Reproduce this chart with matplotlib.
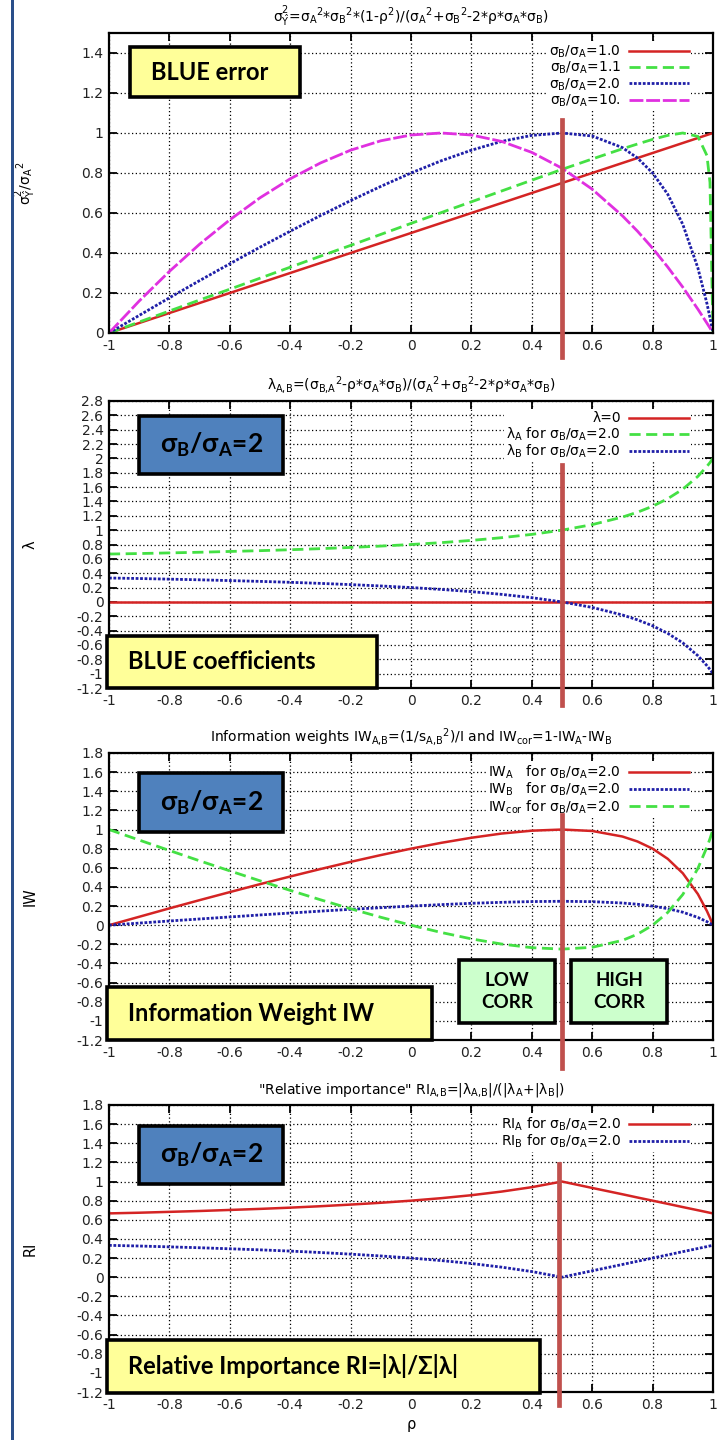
import matplotlib
matplotlib.use("Agg")
import matplotlib.pyplot as plt
from matplotlib.patches import Rectangle
from matplotlib.ticker import FormatStrFormatter

# correlation values used for every curve
rho = [-1.0, -0.9, -0.8, -0.7, -0.6, -0.5, -0.4, -0.3, -0.2, -0.1, 0.0,
       0.1, 0.2, 0.3, 0.4, 0.5, 0.6, 0.7, 0.75, 0.8, 0.85, 0.9, 0.95, 0.98, 0.99, 1.0]

# panel 1: BLUE error for several sigma ratios
err_r1 = [0, 0.05, 0.1, 0.15, 0.2, 0.25, 0.3, 0.35, 0.4, 0.45, 0.5,
          0.55, 0.6, 0.65, 0.7, 0.75, 0.8, 0.85, 0.875, 0.9, 0.925, 0.95, 0.975, 0.99, 0.995, 1.0]
err_r11 = [0, 0.055, 0.110, 0.165, 0.219, 0.274, 0.329, 0.384, 0.438, 0.493, 0.548,
           0.602, 0.656, 0.710, 0.764, 0.818, 0.870, 0.921, 0.945, 0.968, 0.988, 1.000, 0.983, 0.887, 0.753, 0]
err_r2 = [0, 0.088, 0.176, 0.262, 0.346, 0.429, 0.509, 0.587, 0.662, 0.733, 0.800,
          0.861, 0.914, 0.958, 0.988, 1.000, 0.985, 0.927, 0.875, 0.800, 0.694, 0.543, 0.325, 0.147, 0.077, 0]
err_r10 = [0, 0.160, 0.308, 0.444, 0.566, 0.676, 0.771, 0.850, 0.914, 0.961, 0.990,
           1.000, 0.990, 0.958, 0.903, 0.824, 0.719, 0.586, 0.509, 0.424, 0.330, 0.229, 0.119, 0.049, 0.025, 0]

# panel 2: BLUE coefficients
lam_zero = [0.0] * 26
lam_a = [0.667, 0.674, 0.683, 0.692, 0.703, 0.714, 0.727, 0.742, 0.759, 0.778, 0.800,
         0.826, 0.857, 0.895, 0.941, 1.000, 1.077, 1.182, 1.250, 1.333, 1.438, 1.571, 1.750, 1.889, 1.942, 2.000]
lam_b = [0.333, 0.326, 0.317, 0.308, 0.297, 0.286, 0.273, 0.258, 0.241, 0.222, 0.200,
         0.174, 0.143, 0.105, 0.059, 0.000, -0.077, -0.182, -0.250, -0.333, -0.438, -0.571, -0.750, -0.889, -0.942, -1.000]

# panel 3: information weights
iw_a = [0, 0.088, 0.176, 0.262, 0.346, 0.429, 0.509, 0.587, 0.662, 0.733, 0.800,
        0.861, 0.914, 0.958, 0.988, 1.000, 0.985, 0.927, 0.875, 0.800, 0.694, 0.543, 0.325, 0.147, 0.077, 0]
iw_b = [0, 0.022, 0.044, 0.065, 0.086, 0.107, 0.127, 0.147, 0.166, 0.183, 0.200,
        0.215, 0.229, 0.239, 0.247, 0.250, 0.246, 0.232, 0.219, 0.200, 0.173, 0.136, 0.081, 0.037, 0.019, 0]
iw_cor = [1.0, 0.890, 0.781, 0.673, 0.568, 0.464, 0.364, 0.266, 0.172, 0.083, 0.0,
          -0.076, -0.143, -0.197, -0.235, -0.250, -0.231, -0.159, -0.094, 0.0, 0.133, 0.321, 0.594, 0.817, 0.904, 1.0]

# panel 4: relative importance
ri_a = [0.667, 0.674, 0.683, 0.692, 0.703, 0.714, 0.727, 0.742, 0.759, 0.778, 0.800,
        0.826, 0.857, 0.895, 0.941, 1.000, 0.933, 0.867, 0.833, 0.800, 0.767, 0.733, 0.700, 0.680, 0.673, 0.667]
ri_b = [0.333, 0.326, 0.317, 0.308, 0.297, 0.286, 0.273, 0.258, 0.241, 0.222, 0.200,
        0.174, 0.143, 0.105, 0.059, 0.000, 0.067, 0.133, 0.167, 0.200, 0.233, 0.267, 0.300, 0.320, 0.327, 0.333]

plt.rcParams["font.family"] = ["DejaVu Sans"]
plt.rcParams["axes.unicode_minus"] = False
plt.rcParams["mathtext.fontset"] = "custom"
plt.rcParams["mathtext.rm"] = "DejaVu Sans"
plt.rcParams["mathtext.it"] = "DejaVu Sans:italic"
plt.rcParams["mathtext.bf"] = "Lato:bold"
plt.rcParams["mathtext.default"] = "rm"

BOXFONT = ["Lato", "DejaVu Sans"]
RED, GREEN, BLUE, MAG = "#d42424", "#44e044", "#1f1fa8", "#e030e0"
MARK = "#c0504d"

W, H = 723, 1440
fig = plt.figure(figsize=(W / 100, H / 100), dpi=100)

# blue bar down the left side
fig.add_artist(Rectangle((11 / W, 0), 3 / W, 1, transform=fig.transFigure,
                         facecolor="#2a4f8a", edgecolor="none"))


def make_axes(top, height, ylo, yhi):
    ax = fig.add_axes([109 / W, 1 - (top + height) / H, 604 / W, height / H])
    ax.set_xticks([i / 10 for i in range(-10, 11, 2)])
    n = int((yhi - ylo) / 0.2 + 1e-6)
    ax.set_yticks([round(ylo + i * 0.2, 1) for i in range(n + 1)])
    ax.set_xlim(-1, 1)
    ax.set_ylim(ylo, yhi)
    ax.xaxis.set_major_formatter(FormatStrFormatter("%g"))
    ax.yaxis.set_major_formatter(FormatStrFormatter("%g"))
    ax.tick_params(direction="in", top=True, right=True, length=6, width=1.3,
                   labelsize=10, labelcolor="#222222", pad=4)
    for s in ax.spines.values():
        s.set_linewidth(1.6)
    ax.grid(True, color="black", ls=(0, (1, 2)), lw=0.9)
    ax.set_axisbelow(True)
    ax.yaxis.set_label_coords(-0.118, 0.5)
    return ax


def legend(ax, size, spacing):
    leg = ax.legend(loc="upper right", bbox_to_anchor=(0.975, 0.995), markerfirst=False,
                    fontsize=size, labelspacing=spacing, handlelength=4.3,
                    handletextpad=0.6, borderpad=0.15, frameon=True, fancybox=False,
                    framealpha=1, facecolor="white", edgecolor="none")
    leg.set_zorder(4)


def box(x0, y0, x1, y1, color, text, size, center=False):
    fig.add_artist(Rectangle((x0 / W, 1 - y1 / H), (x1 - x0) / W, (y1 - y0) / H,
                             transform=fig.transFigure, facecolor=color,
                             edgecolor="black", lw=2.6, zorder=5))
    if center:
        fig.text((x0 + x1) / 2 / W, 1 - (y0 + y1) / 2 / H, text, ha="center", va="center",
                 fontsize=size, fontweight="bold", family=BOXFONT, zorder=6,
                 linespacing=1.4)
    else:
        fig.text((x0 + 21) / W, 1 - (y0 + y1) / 2 / H, text, ha="left", va="center",
                 fontsize=size, fontweight="bold", family=BOXFONT, zorder=6)


def marker(ax, x, ylo, yhi):
    ax.axvline(x, ymin=ylo, ymax=yhi, color=MARK, lw=3.4, clip_on=False, zorder=8)


SR = "σ$_B$/σ$_A$"
SR_BOX = "σ$_\\mathbf{B}$/σ$_\\mathbf{A}$=2"
TSIZE = 10

# ---- panel 1
ax1 = make_axes(33, 300, 0, 1.5)
ax1.plot(rho, err_r1, color=RED, lw=1.8, label=SR + "=1.0")
ax1.plot(rho, err_r11, color=GREEN, lw=2, dashes=(4, 2), label=SR + "=1.1")
ax1.plot(rho, err_r2, color=BLUE, lw=2, dashes=(1, 0.6), label=SR + "=2.0")
ax1.plot(rho, err_r10, color=MAG, lw=2, dashes=(5, 1), label=SR + "=10.")
ax1.set_title("σ$_{\\hat{Y}}^{2}$=σ$_A$$^2$*σ$_B$$^2$*(1-ρ$^2$)/(σ$_A$$^2$+σ$_B$$^2$-2*ρ*σ$_A$*σ$_B$)",
              fontsize=TSIZE, pad=8)
ax1.set_ylabel("σ$_{\\hat{Y}}^{2}$/σ$_A$$^2$", fontsize=10)
legend(ax1, 10, 0.0)
marker(ax1, 0.5, -0.08, 0.71)
box(130, 47, 300, 97, "#ffff99", "BLUE error", 17)

# ---- panel 2
ax2 = make_axes(401, 287, -1.2, 2.8)
ax2.plot(rho, lam_zero, color=RED, lw=1.8, label="λ=0")
ax2.plot(rho, lam_a, color=GREEN, lw=2, dashes=(4, 2), label="λ$_A$ for " + SR + "=2.0")
ax2.plot(rho, lam_b, color=BLUE, lw=2, dashes=(1, 0.6), label="λ$_B$ for " + SR + "=2.0")
ax2.set_title("λ$_{A{,}B}$=(σ$_{B{,}A}$$^2$-ρ*σ$_A$*σ$_B$)/(σ$_A$$^2$+σ$_B$$^2$-2*ρ*σ$_A$*σ$_B$)",
              fontsize=TSIZE, pad=8)
ax2.set_ylabel("λ", fontsize=10.5)
legend(ax2, 10, 0.0)
marker(ax2, 0.5, -0.06, 0.777)
box(139, 416, 283, 474, "#4f81bd", SR_BOX, 19)
box(107, 636, 377, 688, "#ffff99", "BLUE coefficients", 17)

# ---- panel 3
ax3 = make_axes(753, 287, -1.2, 1.8)
ax3.plot(rho, iw_a, color=RED, lw=1.8, label="IW$_A$   for " + SR + "=2.0")
ax3.plot(rho, iw_b, color=BLUE, lw=2, dashes=(1, 0.6), label="IW$_B$   for " + SR + "=2.0")
ax3.plot(rho, iw_cor, color=GREEN, lw=2, dashes=(4, 2), label="IW$_{cor}$ for " + SR + "=2.0")
ax3.set_title("Information weights IW$_{A{,}B}$=(1/s$_{A{,}B}$$^2$)/I and IW$_{cor}$=1-IW$_A$-IW$_B$",
              fontsize=TSIZE, pad=8)
ax3.set_ylabel("IW", fontsize=10.5)
legend(ax3, 10, 0.0)
marker(ax3, 0.5, -0.098, 0.784)
box(139, 773, 283, 832, "#4f81bd", SR_BOX, 19)
box(107, 987, 432, 1040, "#ffff99", "Information Weight IW", 17)
box(459, 960, 555, 1023, "#ccffcc", "LOW\nCORR", 13.5, center=True)
box(571, 960, 667, 1023, "#ccffcc", "HIGH\nCORR", 13.5, center=True)

# ---- panel 4
ax4 = make_axes(1105, 287, -1.2, 1.8)
ax4.plot(rho, ri_a, color=RED, lw=1.8, label="RI$_A$ for " + SR + "=2.0")
ax4.plot(rho, ri_b, color=BLUE, lw=2, dashes=(1, 0.6), label="RI$_B$ for " + SR + "=2.0")
ax4.set_title("\"Relative importance\" RI$_{A{,}B}$=|λ$_{A{,}B}$|/(|λ$_A$+|λ$_B$|)",
              fontsize=TSIZE, pad=8)
ax4.set_ylabel("RI", fontsize=10.5)
ax4.set_xlabel("ρ", fontsize=10.5, labelpad=4)
legend(ax4, 10, 0.0)
marker(ax4, 0.49, -0.045, 0.794)
box(139, 1126, 283, 1184, "#4f81bd", SR_BOX, 19)
box(107, 1340, 540, 1393, "#ffff99", "Relative Importance RI=|λ|/Σ|λ|", 17)

fig.savefig("out.png", dpi=100)
